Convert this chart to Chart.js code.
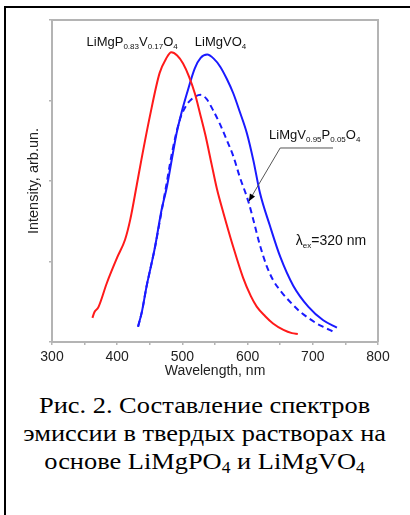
<!DOCTYPE html>
<html><head><meta charset="utf-8">
<script src="https://cdn.jsdelivr.net/npm/chart.js@4.4.0/dist/chart.umd.min.js"></script>
<style>
html,body{margin:0;padding:0;background:#fff;width:410px;height:515px;overflow:hidden;}
#frame{position:absolute;left:4px;top:6px;right:-10px;bottom:-10px;border-left:2px solid #000;border-top:2px solid #000;}
#wrap{position:absolute;left:0;top:0;width:410px;height:380px;}
#cap{position:absolute;left:5px;width:400px;top:391px;text-align:center;font-family:"Liberation Serif","Times New Roman",serif;font-size:24px;line-height:28px;color:#000;transform:scaleX(1.1);transform-origin:204px 0;white-space:nowrap;}
#cap sub{font-size:16px;vertical-align:baseline;position:relative;top:4px;}
</style></head><body>
<div id="frame"></div>
<div id="wrap"><canvas id="c" width="410" height="380"></canvas></div>
<div id="cap">Рис. 2. Составление спектров<br>эмиссии в твердых растворах на<br>основе LiMgPO<sub>4</sub> и LiMgVO<sub>4</sub></div>
<script>
// Wavelength (nm) / intensity (arb. units)
const redWavelength = [362,365,371,384,400,412,420,430,437,450,465,475,483,492,501,510,519,527,535,545,553,563,578,593,605,614,627,639,655,668,677];
const redIntensity  = [0.30,0.37,0.43,0.73,1.05,1.27,1.52,1.95,2.26,2.80,3.34,3.52,3.60,3.56,3.46,3.30,3.09,2.84,2.58,2.20,1.90,1.60,1.18,0.80,0.57,0.44,0.32,0.23,0.15,0.11,0.10];

const blueWavelength = [432,438,445,452,458,468,476,484,491,499,507,519,528,538,548,558,568,578,588,599,609,619,634,650,670,693,716,737];
const blueIntensity  = [0.19,0.38,0.69,0.95,1.18,1.64,1.92,2.28,2.59,2.86,3.09,3.40,3.53,3.57,3.52,3.42,3.27,3.09,2.86,2.59,2.25,1.85,1.45,1.06,0.70,0.44,0.27,0.18];

const dashWavelength = [432,438,445,452,458,468,476,484,496,506,512,520,528,537,547,558,568,578,588,601,610,619,629,639,652,665,680,693,706,718,731];
const dashIntensity  = [0.19,0.38,0.69,0.95,1.18,1.62,1.98,2.35,2.76,2.94,3.00,3.05,3.07,3.02,2.88,2.70,2.51,2.31,2.05,1.75,1.48,1.20,0.95,0.77,0.62,0.50,0.38,0.30,0.23,0.18,0.13];

const xTickValues = [300,400,500,600,700,800];
const seriesNames = ['LiMgP0.83V0.17O4','LiMgVO4','LiMgV0.95P0.05O4'];

// annotation anchors in data units (nm, intensity)
const labelRed   = {x:353, y:3.68};
const labelBlue  = {x:519, y:3.68};
const labelDash  = {x:633, y:2.52};
const labelLam   = {x:674, y:1.20};
const leaderPts  = [[602,1.75],[650,2.41],[731,2.41]];

function pts(xs, ys){ return xs.map((x,i)=>({x:x, y:ys[i]})); }

const SANS = '"Liberation Sans", Arial, sans-serif';

function drawParts(ctx, x, y, parts, mainSize, subSize){
  let cx = x;
  for (const [t, sub] of parts){
    ctx.font = (sub ? subSize : mainSize) + 'px ' + SANS;
    ctx.fillText(t, cx, sub ? y + 3 : y);
    cx += ctx.measureText(t).width;
  }
}

const annot = {
  id:'annot',
  afterDatasetsDraw(chart){
    const ctx = chart.ctx, xs = chart.scales.x, ys = chart.scales.y;
    const P = (p)=>[xs.getPixelForValue(p.x), ys.getPixelForValue(p.y)];
    ctx.save();
    ctx.fillStyle = '#111';
    ctx.textBaseline = 'alphabetic';
    let [a,b] = P(labelRed);
    drawParts(ctx, a, b, [['LiMgP',0],['0.83',1],['V',0],['0.17',1],['O',0],['4',1]], 13, 8);
    [a,b] = P(labelBlue);
    drawParts(ctx, a, b, [['LiMgVO',0],['4',1]], 13, 8);
    [a,b] = P(labelDash);
    drawParts(ctx, a, b, [['LiMgV',0],['0.95',1],['P',0],['0.05',1],['O',0],['4',1]], 13, 8);
    [a,b] = P(labelLam);
    drawParts(ctx, a, b, [['λ',0],['ex',1],['=320 nm',0]], 14, 8);
    // leader line
    const L = leaderPts.map(p=>[xs.getPixelForValue(p[0]), ys.getPixelForValue(p[1])]);
    ctx.strokeStyle = '#555'; ctx.lineWidth = 1;
    ctx.beginPath(); ctx.moveTo(L[0][0],L[0][1]);
    for (let i=1;i<L.length;i++) ctx.lineTo(L[i][0],L[i][1]);
    ctx.stroke();
    const ang = Math.atan2(L[0][1]-L[1][1], L[0][0]-L[1][0]);
    ctx.fillStyle = '#000';
    ctx.beginPath();
    ctx.moveTo(L[0][0], L[0][1]);
    ctx.lineTo(L[0][0]-7*Math.cos(ang)+3*Math.sin(ang), L[0][1]-7*Math.sin(ang)-3*Math.cos(ang));
    ctx.lineTo(L[0][0]-7*Math.cos(ang)-3*Math.sin(ang), L[0][1]-7*Math.sin(ang)+3*Math.cos(ang));
    ctx.closePath(); ctx.fill();
    ctx.restore();
  },
  afterDraw(chart){
    const ctx = chart.ctx, ca = chart.chartArea;
    ctx.save();
    ctx.strokeStyle = '#b4b4b4'; ctx.lineWidth = 2;
    ctx.beginPath();
    ctx.moveTo(ca.left, ca.top); ctx.lineTo(ca.right, ca.top); ctx.lineTo(ca.right, ca.bottom);
    ctx.stroke();
    ctx.restore();
  }
};

new Chart(document.getElementById('c'), {
  type:'scatter',
  data:{ datasets:[
    {label:seriesNames[0], data:pts(redWavelength, redIntensity), borderColor:'#ff1a1a', borderWidth:2, showLine:true, pointRadius:0, cubicInterpolationMode:'monotone'},
    {label:seriesNames[1], data:pts(blueWavelength, blueIntensity), borderColor:'#1a1aff', borderWidth:2, showLine:true, pointRadius:0, cubicInterpolationMode:'monotone'},
    {label:seriesNames[2], data:pts(dashWavelength, dashIntensity), borderColor:'#1a1aff', borderWidth:2, borderDash:[6,4], showLine:true, pointRadius:0, cubicInterpolationMode:'monotone'}
  ]},
  options:{
    responsive:false, animation:false,
    layout:{padding:{left:0, top:20, right:32, bottom:0}},
    plugins:{legend:{display:false}, tooltip:{enabled:false}},
    scales:{
      x:{type:'linear', min:300, max:800,
        afterBuildTicks(s){ const t=[]; for(let v=300; v<=800; v+=50) t.push({value:v}); s.ticks=t; },
        afterFit(s){ s.height = 38; },
        ticks:{autoSkip:false, maxRotation:0, padding:4, color:'#222', font:{family:SANS, size:14},
          callback:(v)=> xTickValues.includes(v) ? String(v) : ''},
        grid:{drawOnChartArea:false, drawTicks:true, tickLength:3, color:'#b4b4b4', lineWidth:1.5},
        border:{display:true, color:'#b4b4b4', width:2},
        title:{display:true, text:'Wavelength, nm', color:'#222', font:{family:SANS, size:14}, padding:{top:0,bottom:0}}
      },
      y:{type:'linear', min:0, max:4,
        afterFit(s){ s.width = 52; },
        ticks:{stepSize:1, callback:()=> '', font:{size:1}},
        grid:{drawOnChartArea:false, drawTicks:true, tickLength:3, color:'#b4b4b4', lineWidth:1.5},
        border:{display:true, color:'#b4b4b4', width:2},
        title:{display:true, text:'Intensity, arb.un.', color:'#222', font:{family:SANS, size:14.5}, padding:{top:25,bottom:0}}
      }
    }
  },
  plugins:[annot]
});
</script>
</body></html>
